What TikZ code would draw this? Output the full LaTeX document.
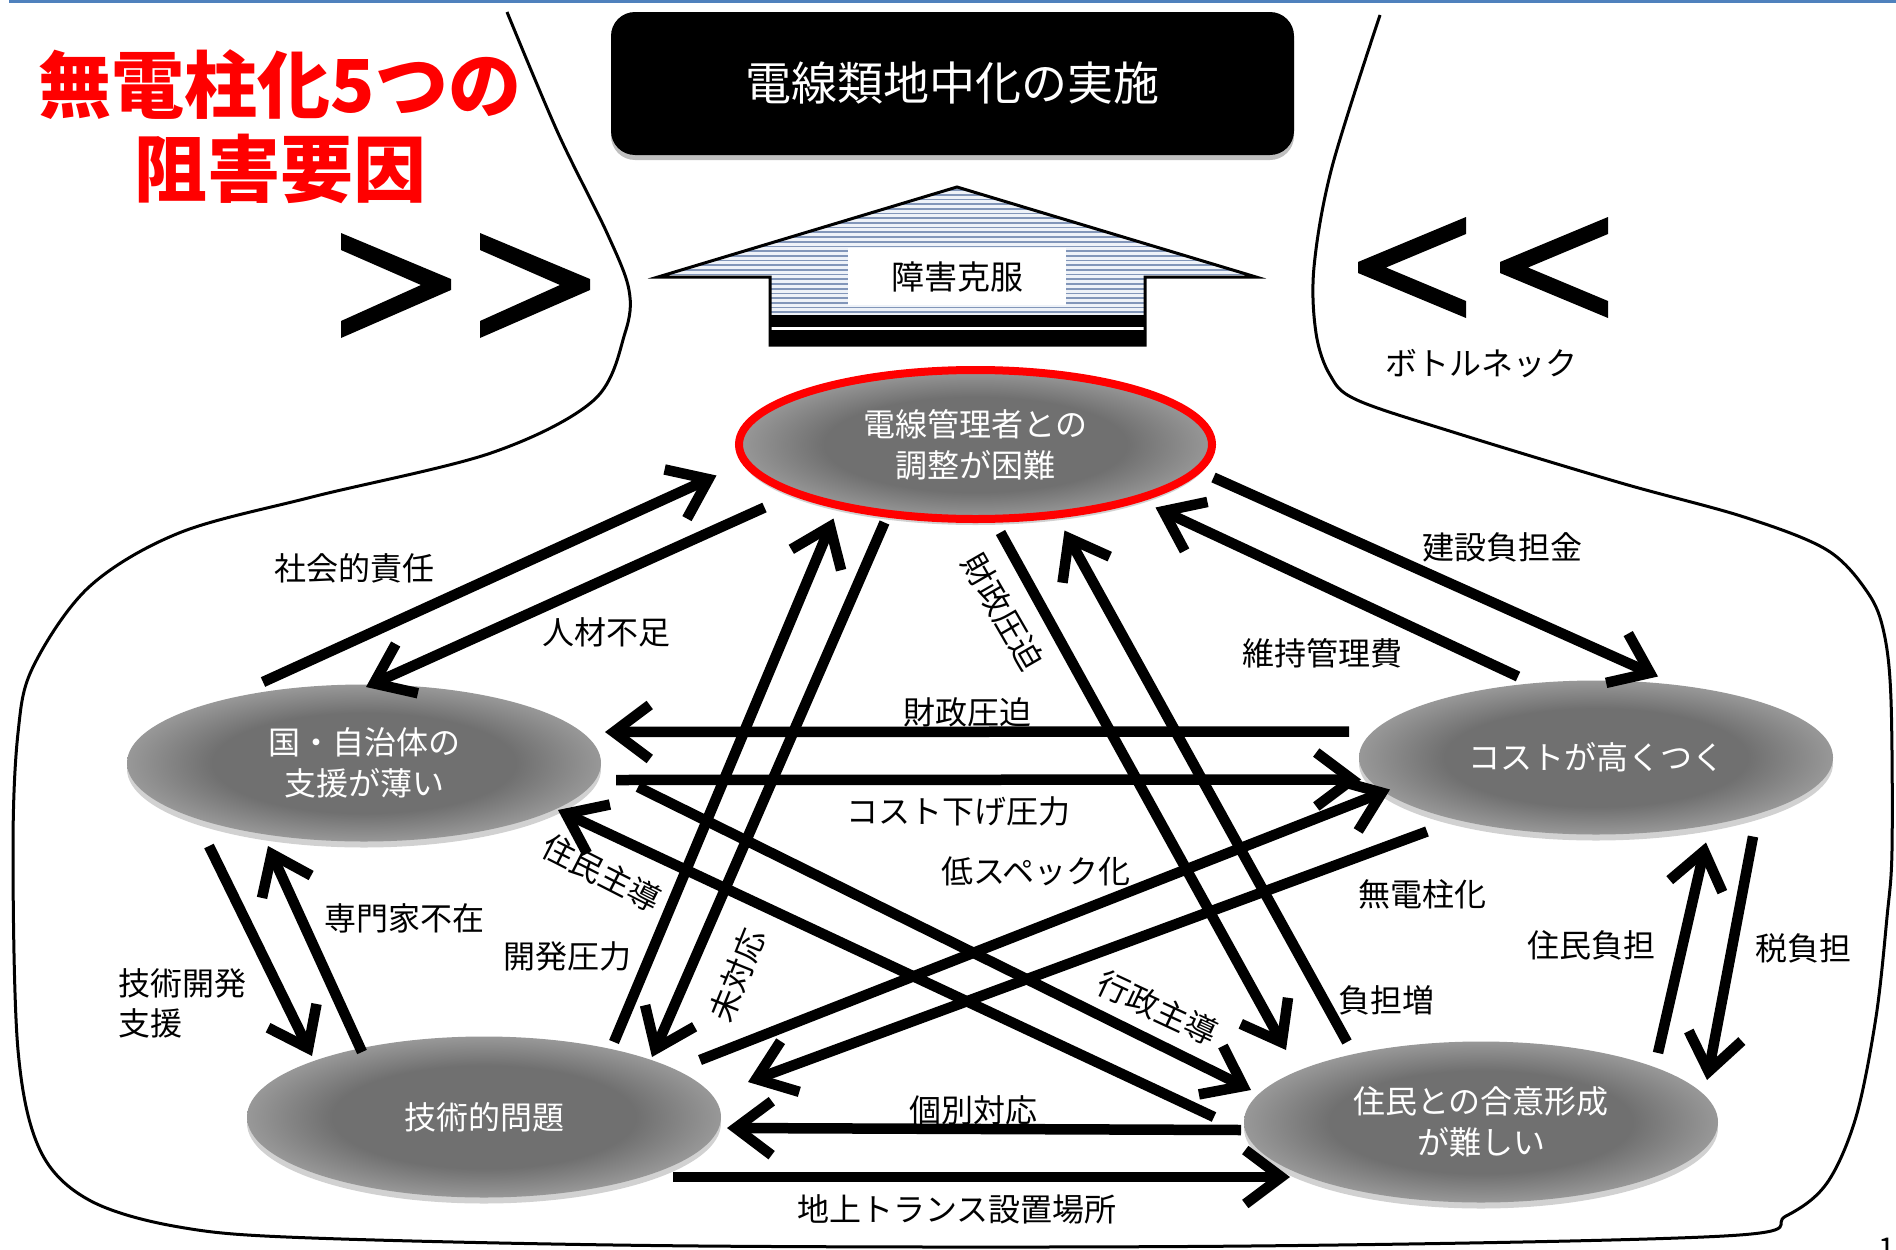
\documentclass[tikz,border=0pt]{standalone}
\usepackage{fontspec}
\usetikzlibrary{shapes.geometric,arrows.meta,calc,shadows}
\newfontfamily\jp{Noto Sans CJK JP}
\definecolor{ellin}{RGB}{112,112,112}
\definecolor{ellout}{RGB}{152,152,152}
\definecolor{stripe}{RGB}{130,150,185}
\definecolor{stripebg}{RGB}{238,242,248}
\definecolor{topblue}{RGB}{79,129,189}
\pgfdeclareradialshading{ellshade}{\pgfpoint{0bp}{0bp}}{color(0bp)=(ellin); color(16bp)=(ellin); color(25bp)=(ellout); color(50bp)=(ellout)}
\tikzset{
  ell/.style={ellipse, minimum width=474pt, minimum height=157pt, inner sep=0pt,
    shading=ellshade, text=white, align=center,
    font=\jp\fontsize{32}{41}\selectfont,
    drop shadow={shadow xshift=0pt, shadow yshift=-6pt, opacity=0.18, fill=black}},
  conn/.style={line width=10.5pt, -{Straight Barb[length=36pt,width=54pt]}},
  lab/.style={font=\jp\fontsize{32}{40}\selectfont, inner sep=0pt},
  chev/.style={fill=black},
}
\begin{document}
\begin{tikzpicture}[x=1pt,y=-1pt]
\useasboundingbox (0,0) rectangle (1896,1250);
\fill[white] (0,0) rectangle (1896,1250);
\draw[topblue, line width=3pt] (9,1.5) -- (1896,1.5);

% enclosing loop
\draw[line width=3pt] plot[smooth, tension=0.55] coordinates {(507,12) (558,133) (607,233) (629,290) (625,333) (594,400) (491,453) (312,497) (179,533) (89,587) (33,667) (18,733) (13,850) (18,1050) (40,1150) (89,1200) (179,1227) (312,1238) (700,1246) (1250,1246) (1724,1236) (1786,1216) (1827,1183) (1856,1117) (1876,1017) (1887,917) (1892,850) (1891,700) (1884,633) (1868,593) (1827,550) (1744,517) (1621,483) (1456,433) (1357,400) (1330,375) (1316,333) (1314,267) (1332,167) (1380,15)};

% title
\node[font=\jp\bfseries\fontsize{73}{84}\selectfont, text=red, align=center, inner sep=0pt] (title) at (280,127) {無電柱化5つの\\阻害要因};

% >> and <<
\fill[chev] (341,233) -- (451,279) -- (451,290) -- (341,338) -- (341,321) -- (421,285) -- (341,250) -- cycle;
\fill[chev] (480,233) -- (590,279) -- (590,290) -- (480,338) -- (480,321) -- (560,285) -- (480,250) -- cycle;
\fill[chev] (1466,217) -- (1358,262) -- (1358,273) -- (1466,318) -- (1466,301) -- (1386,267.5) -- (1466,234) -- cycle;
\fill[chev] (1608,217) -- (1500,262) -- (1500,273) -- (1608,318) -- (1608,301) -- (1528,267.5) -- (1608,234) -- cycle;
\node[lab] (bottle) at (1481,364) {ボトルネック};

% goal box
\node[fill=black, rounded corners=24pt, minimum width=683pt, minimum height=143pt, text=white,
  font=\jp\fontsize{46}{50}\selectfont,
  drop shadow={shadow xshift=0pt, shadow yshift=-5pt, opacity=0.25, fill=black}] (goal) at (952.5,83.5) {電線類地中化の実施};

% up arrow
\fill[stripebg] (957,187) -- (1256,277) -- (1145,277) -- (1145,345) -- (770,345) -- (770,277) -- (658,277) -- cycle;
\begin{scope}
\clip (957,187) -- (1256,277) -- (1145,277) -- (1145,345) -- (770,345) -- (770,277) -- (658,277) -- cycle;
\foreach \yy in {190,194.7,...,316} \draw[stripe, line width=1.7pt] (650,\yy) -- (1260,\yy);
\fill (770,315) rectangle (1145,345);
\draw[white, line width=2.5pt] (770,328.5) -- (1145,328.5);
\end{scope}
\draw[line width=3pt, line join=miter] (957,187) -- (1256,277) -- (1145,277) -- (1145,345) -- (770,345) -- (770,277) -- (658,277) -- cycle;
\node[fill=white, minimum width=218pt, minimum height=57pt, inner sep=0pt, font=\jp\fontsize{33}{40}\selectfont] (overcome) at (957,276.5) {障害克服};

% ellipses
\node[ell, draw=red, line width=8pt, minimum width=473pt, minimum height=149pt] (A) at (975.5,444.5) {電線管理者との\\調整が困難};
\node[ell] (B) at (364,763) {国・自治体の\\支援が薄い};
\node[ell, minimum height=154pt] (C) at (1596,757.5) {コストが高くつく};
\node[ell, minimum height=161pt] (D) at (484,1117) {技術的問題};
\node[ell, minimum height=161pt] (E) at (1481,1122) {住民との合意形成\\が難しい};

% connectors
\draw[conn] ($(B)+(-101,-81)$) -- ($(A)+(-259,31)$);
\draw[conn] ($(A)+(-211,63)$) -- ($(B)+(2,-76)$);
\draw[conn] ($(A)+(238,33)$) -- ($(C)+(62,-81)$);
\draw[conn] ($(C)+(-78,-81)$) -- ($(A)+(180,63)$);
\draw[conn] ($(C)+(-247,-26)$) -- ($(B)+(241,-31)$);
\draw[conn] ($(B)+(252,17)$) -- ($(C)+(-235,22)$);
\draw[conn] ($(E)+(177,-69)$) -- ($(C)+(110,85)$);
\draw[conn] ($(C)+(157,79)$) -- ($(E)+(226,-42)$);
\draw[conn] ($(E)+(-240,8)$) -- ($(D)+(243,11)$);
\draw[conn] ($(D)+(189,60)$) -- ($(E)+(-191,55)$);
\draw[conn] ($(B)+(-155,83)$) -- ($(D)+(-172,-61)$);
\draw[conn] ($(D)+(-122,-65)$) -- ($(B)+(-96,83)$);
\draw[conn] ($(D)+(130,-75)$) -- ($(A)+(-142,74)$);
\draw[conn] ($(A)+(-91,78)$) -- ($(D)+(168,-60)$);
\draw[conn] ($(A)+(25,88)$) -- ($(E)+(-195,-72)$);
\draw[conn] ($(E)+(-134,-80)$) -- ($(A)+(89,86)$);
\draw[conn] ($(E)+(-267,-5)$) -- ($(B)+(194,47)$);
\draw[conn] ($(B)+(274,24)$) -- ($(E)+(-230,-32)$);
\draw[conn] ($(D)+(216,-57)$) -- ($(C)+(-206,32)$);
\draw[conn] ($(C)+(-169,74)$) -- ($(D)+(264,-35)$);

% labels
\node[lab] (l1) at (354,568) {社会的責任};
\node[lab] (l2) at (606,632) {人材不足};
\node[lab] (l3) at (1502,547) {建設負担金};
\node[lab] (l4) at (1322,653) {維持管理費};
\node[lab] (l5) at (967,712) {財政圧迫};
\node[lab] (l6) at (958,811) {コスト下げ圧力};
\node[lab] (l7) at (1591,945) {住民負担};
\node[lab] (l8) at (1803,948) {税負担};
\node[lab] (l9) at (973,1110) {個別対応};
\node[lab] (l10) at (957,1209) {地上トランス設置場所};
\node[lab, align=left, anchor=west] (l11) at (118,1003) {技術開発\\支援};
\node[lab] (l12) at (404,918) {専門家不在};
\node[lab] (l13) at (567,956) {開発圧力};
\node[lab, rotate=68] (l14) at (737,975) {未対応};
\node[lab, rotate=-60] (l15) at (1003,612) {財政圧迫};
\node[lab] (l16) at (1386,1000) {負担増};
\node[lab, rotate=-27] (l17) at (602,873) {住民主導};
\node[lab, rotate=-25] (l18) at (1158,1008) {行政主導};
\node[lab] (l19) at (1036,871) {低スペック化};
\node[lab] (l20) at (1422,894) {無電柱化};

\node[font=\jp\fontsize{30}{30}\selectfont, anchor=north, inner sep=0pt] (pg) at (1887,1238) {1};
\end{tikzpicture}
\end{document}
